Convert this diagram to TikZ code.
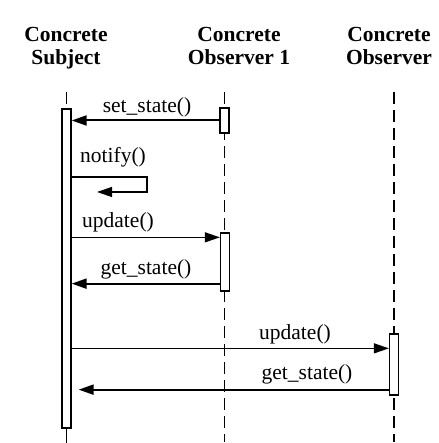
\documentclass[tikz,border=0pt]{standalone}
\usepackage{fontspec}
\setmainfont{Liberation Serif}
\usetikzlibrary{arrows.meta, positioning}

\begin{document}
\begin{tikzpicture}[
    x=1pt, y=1pt,
    header/.style={
        align=center,
        inner sep=0pt,
        anchor=north,
        font=\fontsize{21.5}{23}\selectfont\bfseries
    },
    lifeline/.style={
        line width=1.5pt,
        dash pattern=on 12pt off 6pt
    },
    activation/.style={
        draw,
        fill=white,
        line width=1.3pt,
        minimum width=9pt,
        inner sep=0pt
    },
    msg/.style={
        anchor=base,
        inner sep=0pt,
        font=\fontsize{21.5}{23}\selectfont
    },
    call/.style={
        -{Triangle[length=15pt, width=10pt]},
        line width=#1
    },
    call/.default=1.3pt
]

\useasboundingbox (0,0) rectangle (438,443);

% objects
\node[header] (subject) at (66,416) {Concrete\\Subject};
\node[header] (observer1) at (239,416) {Concrete\\Observer 1};
\node[header] (observer2) at (389,416) {Concrete\\Observer};

% lifelines
\draw[lifeline] (66.5,351) -- (66.5,334);
\draw[lifeline] (224.5,351) -- (224.5,1);
\draw[lifeline] (394,351) -- (394,1);

% activations
\node[activation, minimum height=319pt] (subj) at (66.5,174.5) {};
\node[activation, minimum height=25pt] (obs1a) at (224.5,322.5) {};
\node[activation, minimum height=58pt] (obs1b) at (225,181) {};
\node[activation, minimum height=61pt] (obs2a) at (394,78.5) {};
\draw[line width=1.5pt] (subj.south) -- ++(0,-14);

% where the calls leave or reach the activations
\coordinate (loop) at (72,266);
\coordinate (upd1) at ([yshift=-5pt]obs1b.north west);
\coordinate (get1) at ([yshift=8pt]obs1b.south west);
\coordinate (upd2) at ([yshift=-15pt]obs2a.north west);
\coordinate (get2) at ([yshift=6pt]obs2a.south west);

% messages
\draw[call=2pt] (obs1a.west) -- (subj.east |- obs1a.west);
\node[msg] (setstate) at (147,330) {set\_state()};

\draw[call] (loop) -- ++(75,0) -- ++(0,-15) -- ++(-50,0);
\node[msg] (notify) at (113,280) {notify()};

\draw[call] (subj.east |- upd1) -- (upd1);
\node[msg] (update1) at (118,215) {update()};

\draw[call=2pt] (get1) -- (subj.east |- get1);
\node[msg] (getstate1) at (146,168) {get\_state()};

\draw[call] (subj.east |- upd2) -- (upd2);
\node[msg] (update2) at (295,103) {update()};

\draw[call=2pt, shorten >=7pt] (get2) -- (subj.east |- get2);
\node[msg] (getstate2) at (307,63) {get\_state()};

\end{tikzpicture}
\end{document}
